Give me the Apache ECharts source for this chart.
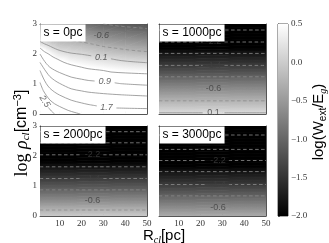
<!DOCTYPE html>
<html><head><meta charset="utf-8">
<script src="https://cdn.jsdelivr.net/npm/echarts@6/dist/echarts.min.js"></script>
<style>html,body{margin:0;padding:0;background:#fff}#c{width:329px;height:243px}</style>
</head><body><div id="c"></div>
<script>
// ---------------- DATA ----------------
// colour scale range of log(W_ext/E_g)
const cbMin = -2.0, cbMax = 0.5;
// x axis (R_cl) range and tick values, y axis (log rho_cl) range
const rRange = [1, 50];
const xTicks = [10, 20, 30, 40, 50];
const rhoRange = [0, 3];

// log rho rows for the s = 1000/2000/3000 pc panels (field depends on rho only)
const rhoRows = [0,0.1,0.2,0.3,0.4,0.5,0.6,0.7,0.8,0.9,1.0,1.1,1.2,1.3,1.4,1.5,1.6,1.7,1.8,1.9,2.0,2.1,2.2,2.3,2.4,2.5,2.6,2.7,2.8,2.9,3.0];
const s1000 = [0.18,0.08,-0.02,-0.12,-0.21,-0.31,-0.41,-0.51,-0.60,-0.70,-0.80,-0.90,-1.00,-1.10,-1.21,-1.31,-1.41,-1.50,-1.60,-1.69,-1.78,-1.88,-2.02,-2.12,-2.21,-2.31,-2.41,-2.51,-2.61,-2.70,-2.80];
const s2000 = [-0.03,-0.14,-0.25,-0.37,-0.50,-0.62,-0.73,-0.84,-0.96,-1.07,-1.17,-1.27,-1.38,-1.48,-1.58,-1.68,-1.78,-1.88,-1.98,-2.08,-2.17,-2.27,-2.37,-2.47,-2.57,-2.67,-2.77,-2.88,-2.99,-3.09,-3.20];
const s3000 = [-0.34,-0.44,-0.55,-0.65,-0.76,-0.86,-0.96,-1.07,-1.17,-1.27,-1.38,-1.48,-1.57,-1.66,-1.75,-1.84,-1.95,-2.05,-2.16,-2.27,-2.37,-2.48,-2.59,-2.67,-2.75,-2.83,-2.92,-3.00,-3.08,-3.16,-3.24];

// s = 0 pc panel: field on an (R, log rho) grid, one column per R value
const s0R = [1, 2, 4, 7, 10, 15, 20, 30, 40, 50];
const s0Rho = [0,0.25,0.5,0.75,1.0,1.25,1.5,1.75,2.0,2.25,2.5,2.75,3.0];
const s0_R1  = [3.60,3.30,2.95,2.60,2.25,1.95,1.60,1.25,0.90,0.42,-0.05,-0.45,-0.85];
const s0_R2  = [3.40,3.10,2.72,2.39,2.03,1.78,1.45,1.14,0.80,0.34,-0.10,-0.45,-0.80];
const s0_R4  = [2.87,2.56,2.25,1.98,1.72,1.50,1.20,0.84,0.59,0.24,-0.05,-0.35,-0.65];
const s0_R7  = [2.52,2.22,1.95,1.69,1.44,1.17,0.89,0.63,0.40,0.09,-0.20,-0.47,-0.73];
const s0_R10 = [2.40,2.14,1.85,1.57,1.30,1.06,0.84,0.57,0.27,-0.02,-0.25,-0.50,-0.74];
const s0_R15 = [2.20,1.94,1.69,1.43,1.18,0.92,0.68,0.43,0.18,-0.06,-0.30,-0.55,-0.79];
const s0_R20 = [2.10,1.83,1.59,1.34,1.08,0.84,0.59,0.36,0.13,-0.11,-0.35,-0.60,-0.85];
const s0_R30 = [1.95,1.70,1.49,1.26,1.00,0.74,0.49,0.25,-0.02,-0.25,-0.52,-0.77,-1.04];
const s0_R40 = [1.93,1.67,1.44,1.20,0.93,0.67,0.41,0.16,-0.10,-0.35,-0.61,-0.87,-1.12];
const s0_R50 = [1.90,1.65,1.41,1.15,0.89,0.63,0.37,0.10,-0.17,-0.43,-0.68,-0.94,-1.19];
const s0Cols = [s0_R1,s0_R2,s0_R4,s0_R7,s0_R10,s0_R15,s0_R20,s0_R30,s0_R40,s0_R50];

// contour lines of the s = 0 pc panel: [level, segments of (R, log rho) points]
const s0C_m1036 = [[[30,3.0],[35,2.95],[40,2.91],[45,2.88],[50,2.85]]];
const s0C_m0643 = [[[7,2.96],[10,2.89],[15,2.85],[20,2.78],[24,2.70]],[[34,2.56],[40,2.52],[45,2.49],[50,2.46]]];
const s0C_m0250 = [[[8,2.6],[10,2.52],[15,2.45],[20,2.40],[25,2.33],[30,2.25],[35,2.2],[40,2.15],[45,2.11],[50,2.08]]];
const s0C_0143 = [[[1,2.42],[3,2.34],[4.7,2.29],[7,2.21],[9.2,2.14],[12,2.08],[15.3,2.03],[20,1.99],[24.5,1.94]],[[33.5,1.84],[38.2,1.78],[44,1.74],[50,1.71]]];
const s0C_0536 = [[[1,2.2],[3,2.08],[4.7,2.01],[7,1.9],[9.2,1.82],[12,1.72],[15.3,1.64],[20,1.56],[23,1.51],[30,1.45],[33.5,1.40],[40,1.37],[50,1.34]]];
const s0C_0929 = [[[1,2.0],[2.5,1.82],[3.9,1.68],[5.5,1.56],[7.7,1.46],[10,1.38],[15.3,1.23],[20,1.16],[23,1.12],[26,1.10]],[[35.2,1.04],[38.2,1.01],[50,0.96]]];
const s0C_1321 = [[[1,1.72],[2.5,1.55],[3.9,1.40],[5.5,1.25],[7.7,1.12],[10,1.02],[15.3,0.84],[20,0.77],[23,0.73],[30,0.68],[38.2,0.64],[50,0.60]]];
const s0C_1714 = [[[1,1.45],[2.5,1.2],[3.9,1.01],[5.5,0.86],[7.7,0.73],[10,0.63],[15.3,0.46],[20,0.37],[23,0.32],[27,0.27]],[[36,0.2],[42,0.19],[50,0.18]]];
const s0C_2107 = [[[1,1.05],[2.5,0.78],[3.9,0.62],[5.5,0.47],[7.7,0.34],[10,0.25],[13.9,0.12],[17,0.05],[19.5,0.0]]];
const s0C_2500 = [[[4.8,0.22],[6.2,0.1],[7.7,0.0]]];
const s0Contours = [[-1.036,s0C_m1036],[-0.643,s0C_m0643],[-0.25,s0C_m0250],[0.143,s0C_0143],[0.536,s0C_0536],[0.929,s0C_0929],[1.321,s0C_1321],[1.714,s0C_1714],[2.107,s0C_2107],[2.5,s0C_2500]];
// contour labels of the s = 0 pc panel: [R, log rho, text, rotation]
const s0Labels = [[29.1,2.62,'-0.6',0],[29.1,1.89,'0.1',0],[30.6,1.07,'0.9',0],[31.4,0.23,'1.7',0],[3.1,0.42,'2.5',-58]];

// horizontal contours of the other panels (log rho position, level, label)
const s1000CRho = [2.80,2.40,2.02,1.62,1.24,0.84,0.44,0.04];
const s1000CLev = [-2.607,-2.214,-1.821,-1.429,-1.036,-0.643,-0.25,0.143];
const s1000CLab = ['','-2.2','','-1.4','','-0.6','','0.1'];
const s1000LabR = 26;
const s2000CRho = [2.81,2.44,2.04,1.64,1.25,0.87,0.52,0.20];
const s2000CLev = [-3.0,-2.607,-2.214,-1.821,-1.429,-1.036,-0.643,-0.25];
const s2000CLab = ['','','-2.2','','-1.4','','-0.6',''];
const s2000LabR = 25;
const s3000CRho = [2.70,2.22,1.85,1.48,1.05,0.67,0.29];
const s3000CLev = [-3.0,-2.607,-2.214,-1.821,-1.429,-1.036,-0.643];
const s3000CLab = ['','','-2.2','','-1.4','','-0.6'];
const s3000LabR = 28;

const panelNames = ['s = 0pc','s = 1000pc','s = 2000pc','s = 3000pc'];

// ---------------- LAYOUT / STYLE ----------------
const GRIDS = [
  {left:40, top:24, width:107, height:90},
  {left:159, top:24, width:107, height:90},
  {left:40, top:126, width:107, height:90},
  {left:159, top:126, width:107, height:90},
  {left:278, top:24, width:10, height:192}
];
const FRAME = '#555';
const LINEC = '#8c8c8c';
const SERIF = '"Liberation Serif", "DejaVu Serif", serif';
const SANS = '"Liberation Sans", Arial, sans-serif';

function gray(v){
  const t = Math.max(0, Math.min(1, (v - cbMin) / (cbMax - cbMin)));
  const g = Math.round(t * 255);
  return 'rgb(' + g + ',' + g + ',' + g + ')';
}
// linear shading of one triangle through the colour scale
function shade(p, v){
  const x1=p[0][0], y1=p[0][1], x2=p[1][0], y2=p[1][1], x3=p[2][0], y3=p[2][1];
  const det = (x2-x1)*(y3-y1) - (x3-x1)*(y2-y1);
  if (Math.abs(det) < 1e-9) return gray(v[0]);
  const a = ((v[1]-v[0])*(y3-y1) - (v[2]-v[0])*(y2-y1)) / det;
  const b = ((x2-x1)*(v[2]-v[0]) - (x3-x1)*(v[1]-v[0])) / det;
  const g2 = a*a + b*b;
  if (g2 < 1e-12) return gray(v[0]);
  const k0 = (cbMin - v[0]) / g2, k1 = (cbMax - v[0]) / g2;
  return new echarts.graphic.LinearGradient(x1+a*k0, y1+b*k0, x1+a*k1, y1+b*k1,
    [{offset:0, color:'#000'}, {offset:1, color:'#fff'}], true);
}
function renderTri(params, api){
  const p = [], v = [];
  for (let k = 0; k < 3; k++) {
    p.push(api.coord([api.value(3*k), api.value(3*k+1)]));
    v.push(api.value(3*k+2));
  }
  const f = shade(p, v);
  return {type:'polygon', shape:{points:p}, style:{fill:f, stroke:f, lineWidth:0.7}, silent:true};
}
function buildTris(Rs, rhos, valAt){
  const out = [];
  for (let i = 0; i < rhos.length-1; i++) for (let j = 0; j < Rs.length-1; j++) {
    const a=[Rs[j],rhos[i],valAt(i,j)], b=[Rs[j+1],rhos[i],valAt(i,j+1)],
          c=[Rs[j+1],rhos[i+1],valAt(i+1,j+1)], d=[Rs[j],rhos[i+1],valAt(i+1,j)];
    out.push(a.concat(b, c)); out.push(a.concat(c, d));
  }
  return out;
}

const series = [];
function fieldSeries(i, data){
  series.push({type:'custom', xAxisIndex:i, yAxisIndex:i, renderItem:renderTri, data:data,
    clip:true, silent:true, animation:false, z:1});
}
function lineSeries(i, pts, level){
  series.push({type:'line', xAxisIndex:i, yAxisIndex:i, data:pts, symbol:'none', smooth:0.3,
    silent:true, animation:false, z:3, clip:true,
    lineStyle:{color:LINEC, width:0.8, type: level < 0 ? [3.5,2.5] : 'solid'}});
}
function labelSeries(i, labels, italic){
  series.push({type:'scatter', xAxisIndex:i, yAxisIndex:i, symbolSize:1, silent:true, animation:false, z:4,
    itemStyle:{color:'rgba(0,0,0,0)'},
    data: labels.map(l => ({name:l[2], value:[l[0], l[1]], label:{rotate:l[3] || 0}})),
    label:{show:true, position:'inside', formatter:'{b}', fontSize:9, color:'#404040',
      fontFamily:SANS, fontStyle: italic ? 'italic' : 'normal'}});
}

// panel 0: s = 0 pc
fieldSeries(0, buildTris(s0R, s0Rho, (i, j) => s0Cols[j][i]));
s0Contours.forEach(c => c[1].forEach(seg => lineSeries(0, seg, c[0])));
labelSeries(0, s0Labels, true);

// panels 1..3
[[s1000, s1000CRho, s1000CLev, s1000CLab, s1000LabR],
 [s2000, s2000CRho, s2000CLev, s2000CLab, s2000LabR],
 [s3000, s3000CRho, s3000CLev, s3000CLab, s3000LabR]].forEach((P, k) => {
  const i = k + 1;
  fieldSeries(i, buildTris(rRange, rhoRows, (r, j) => P[0][r]));
  const labs = [];
  P[1].forEach((rho, n) => {
    const txt = P[3][n];
    if (txt) {
      lineSeries(i, [[rRange[0], rho], [P[4]-5, rho]], P[2][n]);
      lineSeries(i, [[P[4]+5, rho], [rRange[1], rho]], P[2][n]);
      labs.push([P[4], rho, txt, 0]);
    } else {
      lineSeries(i, [[rRange[0], rho], [rRange[1], rho]], P[2][n]);
    }
  });
  labelSeries(i, labs, false);
});

// colour bar
series.push({type:'custom', xAxisIndex:8, yAxisIndex:8, data:[[0, cbMin, 1, cbMax]], silent:true, animation:false,
  renderItem:(params, api) => {
    const p0 = api.coord([api.value(0), api.value(1)]), p1 = api.coord([api.value(2), api.value(3)]);
    return {type:'rect', shape:{x:p0[0], y:p1[1], width:p1[0]-p0[0], height:p0[1]-p1[1]},
      style:{fill:new echarts.graphic.LinearGradient(0,1,0,0,[{offset:0,color:'#000'},{offset:1,color:'#fff'}])}};
  }});

const tickLbl = {fontFamily:SERIF, fontSize:9, color:'#333'};
const xAxes = [], yAxes = [];
for (let i = 0; i < 4; i++) {
  xAxes.push({type:'value', gridIndex:i, min:rRange[0], max:rRange[1], position:'bottom',
    axisLine:{show:true, onZero:false, lineStyle:{color:FRAME, width:1}}, splitLine:{show:false},
    axisTick:{show:true, inside:true, length:2.5, customValues:xTicks, lineStyle:{color:FRAME}},
    axisLabel:Object.assign({show:i >= 2, margin:3, customValues:xTicks}, tickLbl)});
}
for (let i = 0; i < 4; i++) {
  xAxes.push({type:'value', gridIndex:i, min:rRange[0], max:rRange[1], position:'top',
    axisLine:{show:true, onZero:false, lineStyle:{color:FRAME, width:1}}, splitLine:{show:false},
    axisTick:{show:true, inside:true, length:2.5, customValues:xTicks, lineStyle:{color:FRAME}},
    axisLabel:{show:false}});
}
for (let i = 0; i < 4; i++) {
  yAxes.push({type:'value', gridIndex:i, min:rhoRange[0], max:rhoRange[1], interval:1, position:'left',
    axisLine:{show:true, onZero:false, lineStyle:{color:FRAME, width:1}}, splitLine:{show:false},
    axisTick:{show:true, inside:true, length:2.5, lineStyle:{color:FRAME}},
    axisLabel:Object.assign({show:i % 2 === 0, margin:3}, tickLbl)});
}
for (let i = 0; i < 4; i++) {
  yAxes.push({type:'value', gridIndex:i, min:rhoRange[0], max:rhoRange[1], interval:1, position:'right',
    axisLine:{show:true, onZero:false, lineStyle:{color:FRAME, width:1}}, splitLine:{show:false},
    axisTick:{show:true, inside:true, length:2.5, lineStyle:{color:FRAME}},
    axisLabel:{show:false}});
}
xAxes.push({type:'value', gridIndex:4, min:0, max:1, show:false});
yAxes.push({type:'value', gridIndex:4, min:cbMin, max:cbMax, interval:0.5, position:'right',
  axisLine:{show:true, lineStyle:{color:FRAME, width:1}}, splitLine:{show:false},
  axisTick:{show:true, inside:false, length:2, lineStyle:{color:FRAME}},
  axisLabel:Object.assign({margin:3, formatter:v => (v < 0 ? '\u2212' : '') + Math.abs(v).toFixed(1)}, tickLbl)});

const graphics = [];
panelNames.forEach((nm, i) => {
  graphics.push({type:'text', x:GRIDS[i].left + 0.5, y:GRIDS[i].top + 0.5, z:100, silent:true,
    style:{text:nm, fill:'#000', fontSize:12, fontFamily:SANS, backgroundColor:'#fff',
      padding:[2,3,2,3], lineHeight:13}});
});
// axis titles
graphics.push({type:'text', x:22, y:133, rotation:Math.PI/2, z:100, silent:true,
  style:{text:'{a|log }{r|\u03c1}{s|cl}{b|[cm}{p|\u22123}{b|]}', align:'center', verticalAlign:'middle',
    rich:{a:{fontFamily:SERIF, fontSize:18, lineHeight:20, fill:'#000'},
          r:{fontFamily:SERIF, fontStyle:'italic', fontSize:18, lineHeight:20, fill:'#000'},
          s:{fontFamily:SERIF, fontStyle:'italic', fontSize:11, lineHeight:11, verticalAlign:'bottom', fill:'#000'},
          b:{fontFamily:SANS, fontSize:16, lineHeight:20, fill:'#000'},
          p:{fontFamily:SANS, fontSize:11, lineHeight:11, verticalAlign:'top', fill:'#000'}}}});
graphics.push({type:'text', x:164, y:236, z:100, silent:true,
  style:{text:'{b|R}{s|cl}{b|[pc]}', align:'center', verticalAlign:'middle',
    rich:{b:{fontFamily:SANS, fontSize:15, lineHeight:18, fill:'#000'},
          s:{fontFamily:SERIF, fontStyle:'italic', fontSize:10, lineHeight:10, verticalAlign:'bottom', fill:'#000'}}}});
graphics.push({type:'text', x:319, y:122, rotation:Math.PI/2, z:100, silent:true,
  style:{text:'{b|log(W}{s|ext}{b|/E}{g|g}{b|)}', align:'center', verticalAlign:'middle',
    rich:{b:{fontFamily:SANS, fontSize:15, lineHeight:18, fill:'#000'},
          s:{fontFamily:SANS, fontSize:10, lineHeight:10, verticalAlign:'bottom', fill:'#000'},
          g:{fontFamily:SERIF, fontStyle:'italic', fontSize:10, lineHeight:10, verticalAlign:'bottom', fill:'#000'}}}});

const chart = echarts.init(document.getElementById('c'), null, {renderer:'canvas'});
chart.setOption({
  animation:false,
  backgroundColor:'#fff',
  grid: GRIDS.map((g, i) => Object.assign({containLabel:false, show: i === 4, borderColor:FRAME, borderWidth:1}, g)),
  xAxis: xAxes,
  yAxis: yAxes,
  series: series,
  graphic: graphics
});
</script></body></html>
